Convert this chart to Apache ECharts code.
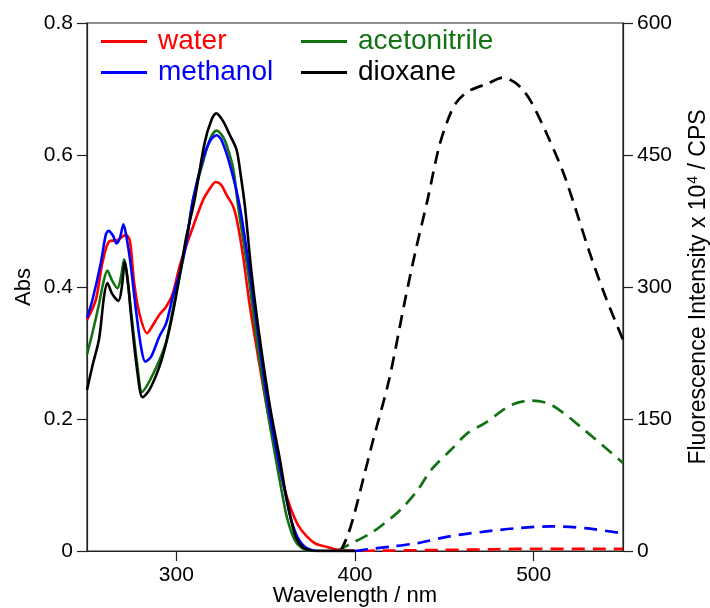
<!DOCTYPE html>
<html>
<head>
<meta charset="utf-8">
<script src="https://cdn.jsdelivr.net/npm/echarts@6/dist/echarts.min.js"></script>
<style>
html,body{margin:0;padding:0;background:#fff;}
#chart{width:710px;height:608px;}
</style>
</head>
<body>
<div id="chart"></div>
<script>
// ---- Absorbance (left axis) ----
const wlWater = [250, 254.9, 258.6, 262.4, 267, 271.8, 274, 276.4, 279.3, 283.6, 286.8, 290.5, 294.3, 298, 301.8, 305.5, 309.3, 315, 319, 322, 325, 328, 331.8, 334, 337.4, 341.2, 345.8, 350.6, 357, 360, 363.7, 368, 373, 378, 384, 390, 395, 400];
const absWater = [0.35, 0.38, 0.436, 0.469, 0.471, 0.479, 0.47, 0.406, 0.36, 0.33, 0.342, 0.358, 0.37, 0.39, 0.431, 0.462, 0.491, 0.532, 0.55, 0.559, 0.555, 0.54, 0.522, 0.50, 0.446, 0.37, 0.294, 0.219, 0.138, 0.1, 0.067, 0.04, 0.022, 0.011, 0.0065, 0.002, 0.0005, 0];

const wlMeoh = [250, 253, 257.7, 260.5, 262, 264.5, 266.5, 268.5, 270.4, 272.7, 274.6, 277.4, 280.2, 282.6, 285.8, 290.5, 294.3, 298, 301.8, 305.5, 309.3, 315, 319, 322.5, 325.2, 330, 335.5, 341.2, 346.2, 351.5, 357.1, 360, 364, 368, 372, 376, 380, 400];
const absMeoh = [0.353, 0.38, 0.436, 0.479, 0.485, 0.478, 0.466, 0.475, 0.495, 0.466, 0.431, 0.365, 0.31, 0.287, 0.294, 0.325, 0.345, 0.385, 0.421, 0.466, 0.532, 0.595, 0.622, 0.63, 0.623, 0.585, 0.522, 0.421, 0.32, 0.219, 0.138, 0.1, 0.05, 0.02, 0.006, 0.001, 0, 0];

const wlAcn = [250, 253, 256.8, 259, 261.4, 264, 267, 269, 270.8, 272.7, 274.6, 278.3, 280.8, 284.9, 290.5, 294.3, 298, 301.8, 305.5, 309.3, 315, 319, 322.5, 326, 328.5, 331.8, 334.6, 340.2, 345, 350.6, 355.8, 359, 362, 366, 370, 374, 378, 400];
const absAcn = [0.298, 0.33, 0.375, 0.405, 0.425, 0.41, 0.398, 0.415, 0.442, 0.41, 0.365, 0.279, 0.241, 0.257, 0.289, 0.317, 0.365, 0.416, 0.466, 0.532, 0.59, 0.625, 0.637, 0.628, 0.612, 0.58, 0.522, 0.421, 0.32, 0.219, 0.138, 0.09, 0.05, 0.018, 0.005, 0.001, 0, 0];

const wlDiox = [250, 253, 256.8, 259.5, 261.4, 264, 267.6, 269.5, 271.2, 273, 274.6, 278.3, 281.1, 284.9, 290.5, 294.3, 298, 301.8, 305.5, 310.2, 315.8, 319.5, 322.4, 326, 330, 333.7, 336, 338.4, 342.1, 346.8, 352.4, 358, 361, 364, 367, 371, 375, 378, 400];
const absDiox = [0.244, 0.28, 0.322, 0.385, 0.406, 0.39, 0.379, 0.4, 0.438, 0.405, 0.358, 0.269, 0.233, 0.244, 0.279, 0.315, 0.36, 0.416, 0.475, 0.532, 0.618, 0.652, 0.663, 0.652, 0.63, 0.608, 0.57, 0.522, 0.421, 0.32, 0.219, 0.138, 0.09, 0.05, 0.02, 0.005, 0.001, 0, 0];

// ---- Fluorescence (right axis, x10^4 CPS) ----
const flWlWater = [392, 420, 450, 480, 500, 550];
const flWater = [0, 0.5, 1.2, 2, 2.5, 2.5];

const flWlMeoh = [400, 407, 420, 435, 453.7, 472.5, 491, 510, 528.7, 550];
const flMeoh = [0, 2, 5, 9, 17, 22, 26, 28, 26, 20];

const flWlAcn = [390, 397.4, 408.7, 416.2, 425.6, 435, 442.5, 453.7, 463, 472.5, 487.5, 498.7, 510, 528.7, 550];
const flAcn = [0, 8, 20, 31, 47, 69, 92, 115, 134, 145, 166, 171, 166, 137, 100];

const flWlDiox = [392, 396, 400, 405, 410, 419, 428, 434, 440.6, 447, 452, 456.5, 463, 474, 483, 489, 494, 499, 508, 517.5, 531.5, 540, 550];
const flDiox = [0, 18, 45, 85, 125, 194, 285, 342, 399, 459, 490, 509, 522, 531, 538, 533, 524, 509, 471, 425, 338, 290, 240];

// ---- Labels ----
const solventNames = ['water', 'methanol', 'acetonitrile', 'dioxane'];
const xTickValues = [300, 400, 500];

const colRed = '#ff0000', colBlue = '#0000ff', colGreen = '#137313', colBlack = '#000000';
const FONT = '"Liberation Sans", Arial, Helvetica, sans-serif';
const AX = '#222';

function pairs(xs, ys) {
  const n = Math.min(xs.length, ys.length);
  const out = [];
  for (let i = 0; i < n; i++) out.push([xs[i], ys[i]]);
  return out;
}

function solid(name, color, xs, ys) {
  return {
    type: 'line', name: name, xAxisIndex: 0, yAxisIndex: 0,
    data: pairs(xs, ys), showSymbol: false, symbol: 'none',
    smooth: 0.3,
    lineStyle: { color: color, width: 2.6 }, itemStyle: { color: color },
    z: 3
  };
}
function dashed(name, color, xs, ys) {
  return {
    type: 'line', name: name, xAxisIndex: 0, yAxisIndex: 1,
    data: pairs(xs, ys), showSymbol: false, symbol: 'none',
    smooth: 0.3,
    lineStyle: { color: color, width: 2.7, type: [13, 8] }, itemStyle: { color: color },
    z: 2
  };
}

const chart = echarts.init(document.getElementById('chart'), null, { renderer: 'canvas' });

const legendCommon = {
  orient: 'vertical', icon: 'rect', itemWidth: 46, itemHeight: 3, itemGap: 0,
  selectedMode: false,
  textStyle: { fontFamily: FONT, fontSize: 28, lineHeight: 31, padding: [0, 0, 0, 6] }
};

chart.setOption({
  animation: false,
  backgroundColor: '#fff',
  textStyle: { fontFamily: FONT },
  grid: { left: 87, right: 87, top: 23, bottom: 57, outerBoundsMode: 'none', containLabel: false, show: true, borderColor: AX, borderWidth: 1.2, backgroundColor: 'transparent' },
  legend: [
    Object.assign({}, legendCommon, {
      left: 96, top: 21,
      data: [
        { name: solventNames[0], textStyle: { color: colRed } },
        { name: solventNames[1], textStyle: { color: colBlue } }
      ]
    }),
    Object.assign({}, legendCommon, {
      left: 296, top: 21,
      data: [
        { name: solventNames[2], textStyle: { color: colGreen } },
        { name: solventNames[3], textStyle: { color: colBlack } }
      ]
    })
  ],
  xAxis: {
    type: 'value', min: 250, max: 550,
    name: 'Wavelength / nm', nameLocation: 'middle', nameGap: 34, nameMoveOverlap: false,
    nameTextStyle: { fontFamily: FONT, fontSize: 22, color: '#000' },
    axisLine: { show: true, onZero: false, lineStyle: { color: AX, width: 1.2 } },
    axisTick: { show: true, inside: false, length: 10, customValues: xTickValues, lineStyle: { color: AX, width: 1.2 } },
    axisLabel: { show: true, margin: 14, customValues: xTickValues, fontFamily: FONT, fontSize: 21, color: '#000' },
    splitLine: { show: false }
  },
  yAxis: [
    {
      type: 'value', min: 0, max: 0.8, interval: 0.2, position: 'left',
      name: 'Abs', nameLocation: 'middle', nameGap: 52, nameMoveOverlap: false,
      nameTextStyle: { fontFamily: FONT, fontSize: 22, color: '#000' },
      axisLine: { show: true, lineStyle: { color: AX, width: 1.2 } },
      axisTick: { show: true, inside: false, length: 10, lineStyle: { color: AX, width: 1.2 } },
      axisLabel: { margin: 14, fontFamily: FONT, fontSize: 21, color: '#000' },
      splitLine: { show: false }
    },
    {
      type: 'value', min: 0, max: 600, interval: 150, position: 'right',
      name: 'Fluorescence Intensity x 10{sup|4} / CPS', nameLocation: 'middle', nameGap: 63, nameMoveOverlap: false,
      nameTextStyle: {
        fontFamily: FONT, fontSize: 23, color: '#000', lineHeight: 26,
        rich: { sup: { fontFamily: FONT, fontSize: 14, color: '#000', verticalAlign: 'top', lineHeight: 14, padding: [0, 0, 0, 1] } }
      },
      axisLine: { show: true, lineStyle: { color: AX, width: 1.2 } },
      axisTick: { show: true, inside: false, length: 10, lineStyle: { color: AX, width: 1.2 } },
      axisLabel: { margin: 14, fontFamily: FONT, fontSize: 21, color: '#000' },
      splitLine: { show: false }
    }
  ],
  series: [
    dashed('fl-water', colRed, flWlWater, flWater),
    dashed('fl-methanol', colBlue, flWlMeoh, flMeoh),
    dashed('fl-acetonitrile', colGreen, flWlAcn, flAcn),
    dashed('fl-dioxane', colBlack, flWlDiox, flDiox),
    solid(solventNames[0], colRed, wlWater, absWater),
    solid(solventNames[2], colGreen, wlAcn, absAcn),
    solid(solventNames[1], colBlue, wlMeoh, absMeoh),
    solid(solventNames[3], colBlack, wlDiox, absDiox)
  ]
});
</script>
</body>
</html>
